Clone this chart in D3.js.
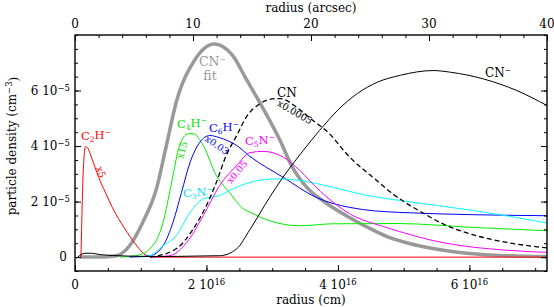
<!DOCTYPE html>
<html>
<head>
<meta charset="utf-8" />
<title></title>
<script src="https://cdn.jsdelivr.net/npm/d3@7"></script>
<style type="text/css">
    body { margin: 0; background: #fff; }
    svg text { font-family: "DejaVu Serif", serif; }
</style>
</head>
<body>
<div id="chart"></div>
<script type="text/javascript">
    // radius in 1e16 cm, density in 1e-5 cm^-3 (already scaled as plotted)
    var cnFit = [[0.07,0],[0.38,0],[0.63,0.05],[0.83,0.41],[1.03,1.25],[1.24,2.47],[1.39,4.02],[1.54,5.58],[1.80,7.02],[2.07,7.66],[2.12,7.68],[2.40,7.26],[2.61,6.39],[2.81,5.57],[3.12,4.20],[3.31,3.22],[3.53,2.50],[3.83,1.93],[4.18,1.42],[4.53,0.98],[4.79,0.70],[5.10,0.48],[5.44,0.31],[5.96,0.14],[6.46,0.06],[7.18,0.02]];
    var c4h = [[0.68,0],[0.93,0.05],[1.14,0.30],[1.34,1.25],[1.47,2.69],[1.59,4.02],[1.72,4.44],[1.80,4.45],[1.95,4.02],[2.15,2.94],[2.35,2.33],[2.56,1.74],[2.66,1.62],[2.96,1.31],[3.42,1.13],[3.92,1.20],[4.90,1.21],[6.05,1.07],[7.18,0.95]];
    var c6h = [[0.83,0],[1.14,0.05],[1.34,0.41],[1.49,1.25],[1.62,2.33],[1.75,3.41],[1.90,4.14],[2.05,4.38],[2.20,4.30],[2.46,4.02],[2.66,3.63],[3.17,2.87],[3.67,2.15],[4.18,1.79],[4.94,1.61],[7.18,1.49]];
    var c3n = [[0.98,0],[1.14,0.05],[1.34,0.41],[1.54,0.77],[1.75,1.61],[1.95,2.10],[2.20,2.22],[2.40,2.46],[2.66,2.69],[3.07,2.82],[3.42,2.76],[3.93,2.51],[4.44,2.22],[4.94,2.04],[6.06,1.68],[7.18,1.23]];
    var c5n = [[1.14,0],[1.44,0.05],[1.70,0.53],[1.95,1.49],[2.20,2.58],[2.46,3.30],[2.66,3.76],[2.86,3.81],[3.17,3.60],[3.42,3.12],[3.67,2.51],[3.93,1.97],[4.18,1.56],[4.69,1.10],[4.94,0.92],[5.40,0.62],[5.80,0.44],[6.50,0.26],[7.18,0.17]];
    var cnMinus = [[0.04,0],[0.15,0.14],[0.25,0.14],[0.38,0.09],[0.78,0.04],[1.29,0.02],[1.90,0.04],[2.20,0.05],[2.46,0.30],[2.66,0.99],[2.96,2.15],[3.15,2.83],[3.34,3.44],[3.72,4.56],[4.00,5.30],[4.30,5.90],[4.60,6.30],[4.95,6.55],[5.45,6.72],[5.71,6.66],[6.21,6.42],[6.72,6.00],[7.18,5.46]];
    var c2h = [[0.09,0],[0.10,0.95],[0.125,3.1],[0.16,3.98],[0.20,3.9],[0.25,3.60],[0.36,2.87],[0.46,2.34],[0.57,1.78],[0.75,1.05],[0.92,0.47],[1.05,0.12],[1.20,0],[7.18,0]];
    var cn = [[1.14,0],[1.54,0.30],[1.80,1.02],[2.00,1.86],[2.15,2.69],[2.30,3.66],[2.46,4.38],[2.61,5.06],[2.81,5.52],[3.05,5.71],[3.12,5.71],[3.37,5.40],[3.62,4.92],[3.82,4.56],[4.18,3.60],[4.59,2.76],[4.85,2.25],[5.30,1.58],[5.55,1.25],[6.06,0.80],[6.57,0.53],[7.18,0.33]];

    var xTicks = [0, 2, 4, 6];
    var yTicks = [0, 2, 4, 6];
    var arcTicks = [0, 10, 20, 30, 40];

    var width = 554, height = 307;
    var pad = { left: 75, right: 547, top: 35, bottom: 271 };

    var svg = d3.select("#chart").append("svg")
        .attr("width", width)
        .attr("height", height);

    var x = d3.scaleLinear().domain([0, 7.18]).range([pad.left, pad.right]);
    var y = d3.scaleLinear().domain([-0.5, 8]).range([pad.bottom, pad.top]);
    var xa = d3.scaleLinear().domain([0, 40]).range([pad.left, pad.right]);

    var line = d3.line()
        .x(function (d) { return x(d[0]); })
        .y(function (d) { return y(d[1]); })
        .curve(d3.curveMonotoneX);

    var g = svg.append("g");
    g.append("path").datum(cnFit).attr("d", line).attr("fill", "none").attr("stroke", "#999").attr("stroke-width", 3.5);
    g.append("path").datum(c2h).attr("d", line).attr("fill", "none").attr("stroke", "#ff0000").attr("stroke-width", 1);
    g.append("path").datum(c4h).attr("d", line).attr("fill", "none").attr("stroke", "#00ee00").attr("stroke-width", 1);
    g.append("path").datum(c6h).attr("d", line).attr("fill", "none").attr("stroke", "#0000ff").attr("stroke-width", 1);
    g.append("path").datum(c3n).attr("d", line).attr("fill", "none").attr("stroke", "#00ffff").attr("stroke-width", 1);
    g.append("path").datum(c5n).attr("d", line).attr("fill", "none").attr("stroke", "#ff00ff").attr("stroke-width", 1);
    g.append("path").datum(cnMinus).attr("d", line).attr("fill", "none").attr("stroke", "#000").attr("stroke-width", 1);
    g.append("path").datum(cn).attr("d", line).attr("fill", "none").attr("stroke", "#000").attr("stroke-width", 1.3).attr("stroke-dasharray", "5,3");

    // axes (ticks inward, labels drawn separately)
    function minor(a, b, s) { return d3.range(a, b + 1e-9, s); }
    svg.append("g").attr("transform", "translate(0," + pad.bottom + ")")
        .call(d3.axisBottom(x).tickValues(minor(0, 7, 0.5)).tickSize(-3).tickFormat(""));
    svg.append("g").attr("transform", "translate(0," + pad.bottom + ")")
        .call(d3.axisBottom(x).tickValues(xTicks).tickSize(-6).tickFormat(""));
    svg.append("g").attr("transform", "translate(0," + pad.top + ")")
        .call(d3.axisTop(xa).tickValues(minor(0, 40, 2)).tickSize(-3).tickFormat(""));
    svg.append("g").attr("transform", "translate(0," + pad.top + ")")
        .call(d3.axisTop(xa).tickValues(arcTicks).tickSize(-6).tickFormat(""));
    svg.append("g").attr("transform", "translate(" + pad.left + ",0)")
        .call(d3.axisLeft(y).tickValues(minor(-0.5, 8, 0.5)).tickSize(-3).tickFormat(""));
    svg.append("g").attr("transform", "translate(" + pad.left + ",0)")
        .call(d3.axisLeft(y).tickValues(yTicks).tickSize(-6).tickFormat(""));
    svg.append("g").attr("transform", "translate(" + pad.right + ",0)")
        .call(d3.axisRight(y).tickValues(minor(-0.5, 8, 0.5)).tickSize(-3).tickFormat(""));
    svg.append("g").attr("transform", "translate(" + pad.right + ",0)")
        .call(d3.axisRight(y).tickValues(yTicks).tickSize(-6).tickFormat(""));
    svg.selectAll(".domain").remove();
    svg.selectAll(".tick line").attr("stroke", "#000").attr("stroke-width", 1);

    svg.append("rect")
        .attr("x", pad.left).attr("y", pad.top)
        .attr("width", pad.right - pad.left).attr("height", pad.bottom - pad.top)
        .attr("fill", "none").attr("stroke", "#000").attr("stroke-width", 1.4);

    // tick labels
    function powLabel(sel, m, e) {
        if (m === 0) { sel.text("0"); return; }
        sel.append("tspan").text(m + " 10");
        sel.append("tspan").attr("dy", "-0.45em").attr("font-size", "8.5px").text(e);
    }
    xTicks.forEach(function (t) {
        var tx = svg.append("text").attr("x", x(t)).attr("y", 289)
            .attr("text-anchor", "middle").attr("font-size", "12px");
        powLabel(tx, t, "16");
    });
    yTicks.forEach(function (t) {
        var ty = svg.append("text").attr("x", t === 0 ? 67 : 70).attr("y", y(t) + 4)
            .attr("text-anchor", "end").attr("font-size", "12px");
        powLabel(ty, t, "\u22125");
    });
    arcTicks.forEach(function (t) {
        svg.append("text").attr("x", xa(t)).attr("y", 28)
            .attr("text-anchor", "middle").attr("font-size", "12px").text(t);
    });

    // axis titles
    svg.append("text").attr("x", (pad.left + pad.right) / 2).attr("y", 12)
        .attr("text-anchor", "middle").attr("font-size", "12px").text("radius (arcsec)");
    svg.append("text").attr("x", (pad.left + pad.right) / 2).attr("y", 304)
        .attr("text-anchor", "middle").attr("font-size", "12px").text("radius (cm)");
    var yl = svg.append("text").attr("transform", "translate(16,146) rotate(-90)")
        .attr("text-anchor", "middle").attr("font-size", "12px");
    yl.append("tspan").text("particle density (cm");
    yl.append("tspan").attr("dy", "-0.45em").attr("font-size", "8.5px").text("\u22123");
    yl.append("tspan").attr("dy", "0.45em").text(")");

    // curve labels
    function species(px, py, color, parts, size) {
        var t = svg.append("text").attr("x", px).attr("y", py)
            .attr("fill", color).attr("font-size", (size || 11.5) + "px");
        parts.forEach(function (p) {
            if (p[1] === "sub") t.append("tspan").attr("dy", "0.3em").attr("font-size", "7.5px").text(p[0]);
            else if (p[1] === "subsup") t.append("tspan").attr("dy", "-0.3em").text(p[0]);
            else if (p[1] === "sup") t.append("tspan").attr("dy", "-0.55em").attr("font-size", "7.5px").text(p[0]);
            else t.append("tspan").text(p[0]);
        });
        return t;
    }
    function note(px, py, ang, color, txt) {
        svg.append("text").attr("transform", "translate(" + px + "," + py + ") rotate(" + ang + ")")
            .attr("text-anchor", "middle").attr("dy", "0.35em")
            .attr("fill", color).attr("font-size", "9.5px").text(txt);
    }

    species(81, 140, "#ff0000", [["C"], ["2", "sub"], ["H", "subsup"], ["\u2212", "sup"]]);
    note(101, 172, 70, "#ff0000", "x5");
    species(177, 128, "#00dd00", [["C"], ["4", "sub"], ["H", "subsup"], ["\u2212", "sup"]]);
    note(182, 150, -76, "#00dd00", "x15");
    species(209, 132, "#0000ff", [["C"], ["6", "sub"], ["H", "subsup"], ["\u2212", "sup"]]);
    note(217, 145, 35, "#0000ff", "x0.03");
    species(183, 197, "#00e5ee", [["C"], ["3", "sub"], ["N", "subsup"], ["\u2212", "sup"]]);
    species(245, 145, "#ff00ff", [["C"], ["5", "sub"], ["N", "subsup"], ["\u2212", "sup"]]);
    note(237, 172, -50, "#ff00ff", "x0.05");
    species(277, 97, "#000", [["CN"]], 12);
    note(295, 112, 30, "#000", "x0.0005");
    species(485, 77, "#000", [["CN"], ["\u2212", "sup"]], 12);
    species(199, 66, "#999", [["CN"], ["\u2212", "sup"]], 12.5);
    svg.append("text").attr("x", 210).attr("y", 80).attr("text-anchor", "middle")
        .attr("fill", "#999").attr("font-size", "12.5px").text("fit");
</script>
</body>
</html>
